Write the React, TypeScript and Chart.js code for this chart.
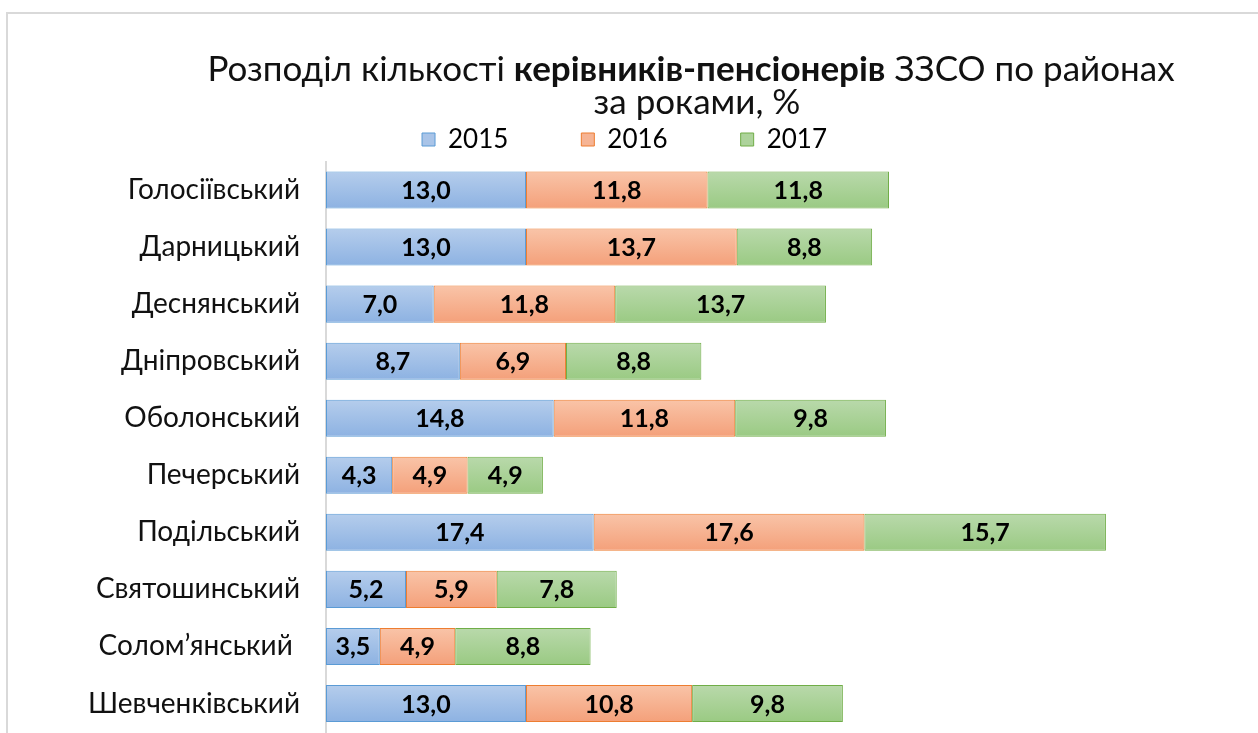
import React, { useEffect, useRef } from 'react';
import { Chart, registerables } from 'chart.js';
Chart.register(...registerables);

const categories = ['Голосіївський', 'Дарницький', 'Деснянський', 'Дніпровський', 'Оболонський', 'Печерський', 'Подільський', 'Святошинський', 'Солом’янський ', 'Шевченківський'];
const series2015 = [13.0, 13.0, 7.0, 8.7, 14.8, 4.3, 17.4, 5.2, 3.5, 13.0];
const series2016 = [11.8, 13.7, 11.8, 6.9, 11.8, 4.9, 17.6, 5.9, 4.9, 10.8];
const series2017 = [11.8, 8.8, 13.7, 8.8, 9.8, 4.9, 15.7, 7.8, 8.8, 9.8];
const seriesLabels = ['2015', '2016', '2017'];
const titleNormal1 = 'Розподіл кількості ';
const titleBold = 'керівників-пенсіонерів';
const titleNormal2 = ' ЗЗСО по районах';
const titleLine2 = 'за роками, %';

const FONT = 'Lato, "Open Sans", sans-serif';
const BAR_PCT = 0.65;

const styles = [
  { top: '#b5cdec', bottom: '#8db2e2', border: '#5b9bd5', legend: '#a9c4e8' },
  { top: '#f9c4a8', bottom: '#f4a07a', border: '#ed7d31', legend: '#f6b494' },
  { top: '#b9d9ab', bottom: '#9aca83', border: '#70ad47', legend: '#add39b' },
];

const makeFill = (top: string, bottom: string) => (ctx: any) => {
  const chart = ctx.chart;
  const area = chart.chartArea;
  if (ctx.type !== 'data' || !area || !chart.scales.y) return top;
  const c = chart.scales.y.getPixelForValue(ctx.dataIndex);
  const half = ((area.bottom - area.top) / categories.length) * BAR_PCT / 2;
  const g = chart.ctx.createLinearGradient(0, c - half, 0, c + half);
  g.addColorStop(0, top);
  g.addColorStop(1, bottom);
  return g;
};

const framePlugin = {
  id: 'frame',
  beforeDraw(chart: any) {
    const ctx = chart.ctx;
    ctx.save();
    ctx.strokeStyle = '#d9d9d9';
    ctx.lineWidth = 2;
    ctx.strokeRect(7, 13, 2000, 2000);
    ctx.restore();
  },
};

const titlePlugin = {
  id: 'mixedTitle',
  afterDraw(chart: any) {
    const ctx = chart.ctx;
    ctx.save();
    ctx.fillStyle = '#111';
    ctx.textBaseline = 'alphabetic';
    ctx.textAlign = 'left';
    const size = 35;
    const normal = `${size}px ${FONT}`;
    const bold = `bold ${size}px ${FONT}`;
    ctx.font = normal;
    const w1 = ctx.measureText(titleNormal1).width;
    const w3 = ctx.measureText(titleNormal2).width;
    ctx.font = bold;
    const w2 = ctx.measureText(titleBold).width;
    const cx = 691;
    let x = cx - (w1 + w2 + w3) / 2;
    const y1 = 81;
    ctx.font = normal;
    ctx.fillText(titleNormal1, x, y1);
    x += w1;
    ctx.font = bold;
    ctx.fillText(titleBold, x, y1);
    x += w2;
    ctx.font = normal;
    ctx.fillText(titleNormal2, x, y1);
    ctx.textAlign = 'center';
    ctx.fillText(titleLine2, 697, 114);
    ctx.restore();
  },
};

const valueLabelPlugin = {
  id: 'valueLabels',
  afterDatasetsDraw(chart: any) {
    const ctx = chart.ctx;
    ctx.save();
    ctx.font = `bold 25px ${FONT}`;
    ctx.fillStyle = '#000';
    ctx.textAlign = 'center';
    ctx.textBaseline = 'middle';
    chart.data.datasets.forEach((ds: any, di: number) => {
      const meta = chart.getDatasetMeta(di);
      meta.data.forEach((el: any, i: number) => {
        const v = ds.data[i];
        const txt = v.toFixed(1).replace('.', ',');
        ctx.fillText(txt, (el.x + el.base) / 2, el.y + 1);
      });
    });
    ctx.restore();
  },
};

export default function App() {
  const ref = useRef<HTMLCanvasElement | null>(null);
  useEffect(() => {
    if (!ref.current) return;
    const seriesData = [series2015, series2016, series2017];
    const chart = new Chart(ref.current, {
      type: 'bar',
      data: {
        labels: categories,
        datasets: seriesData.map((d, i) => ({
          label: seriesLabels[i],
          data: d,
          backgroundColor: makeFill(styles[i].top, styles[i].bottom),
          borderColor: styles[i].border,
          borderWidth: 1,
          borderSkipped: false,
          barPercentage: BAR_PCT,
          categoryPercentage: 1,
        })),
      },
      options: {
        indexAxis: 'y',
        animation: false,
        responsive: false,
        maintainAspectRatio: false,
        layout: { padding: { top: 53.5, right: 9, bottom: 1, left: 0 } },
        plugins: {
          title: { display: false },
          tooltip: { enabled: false },
          legend: {
            display: true,
            position: 'top',
            maxHeight: 108,
            labels: {
              font: { family: FONT, size: 26 },
              color: '#111',
              boxWidth: 13,
              boxHeight: 13,
              padding: 73,
              generateLabels: () =>
                seriesLabels.map((l, i) => ({
                  text: l,
                  fillStyle: styles[i].legend,
                  strokeStyle: styles[i].border,
                  lineWidth: 1,
                  datasetIndex: i,
                  hidden: false,
                })),
            },
          },
        },
        scales: {
          x: { stacked: true, display: false, min: 0, max: 60 },
          y: {
            stacked: true,
            grid: { display: false },
            border: { display: true, color: '#d9d9d9', width: 2 },
            ticks: {
              font: { family: FONT, size: 28 },
              color: '#111',
              padding: 18,
            },
            afterFit: (s: any) => {
              s.width = 326;
              s.paddingTop = 0;
              s.paddingBottom = 0;
            },
          },
        },
      },
      plugins: [framePlugin, titlePlugin, valueLabelPlugin],
    } as any);
    return () => chart.destroy();
  }, []);
  return (
    <div style={{ position: 'absolute', left: 0, top: 0, width: 1258, height: 733, overflow: 'hidden', background: '#fff' }}>
      <canvas ref={ref} width={1258} height={733} />
    </div>
  );
}
